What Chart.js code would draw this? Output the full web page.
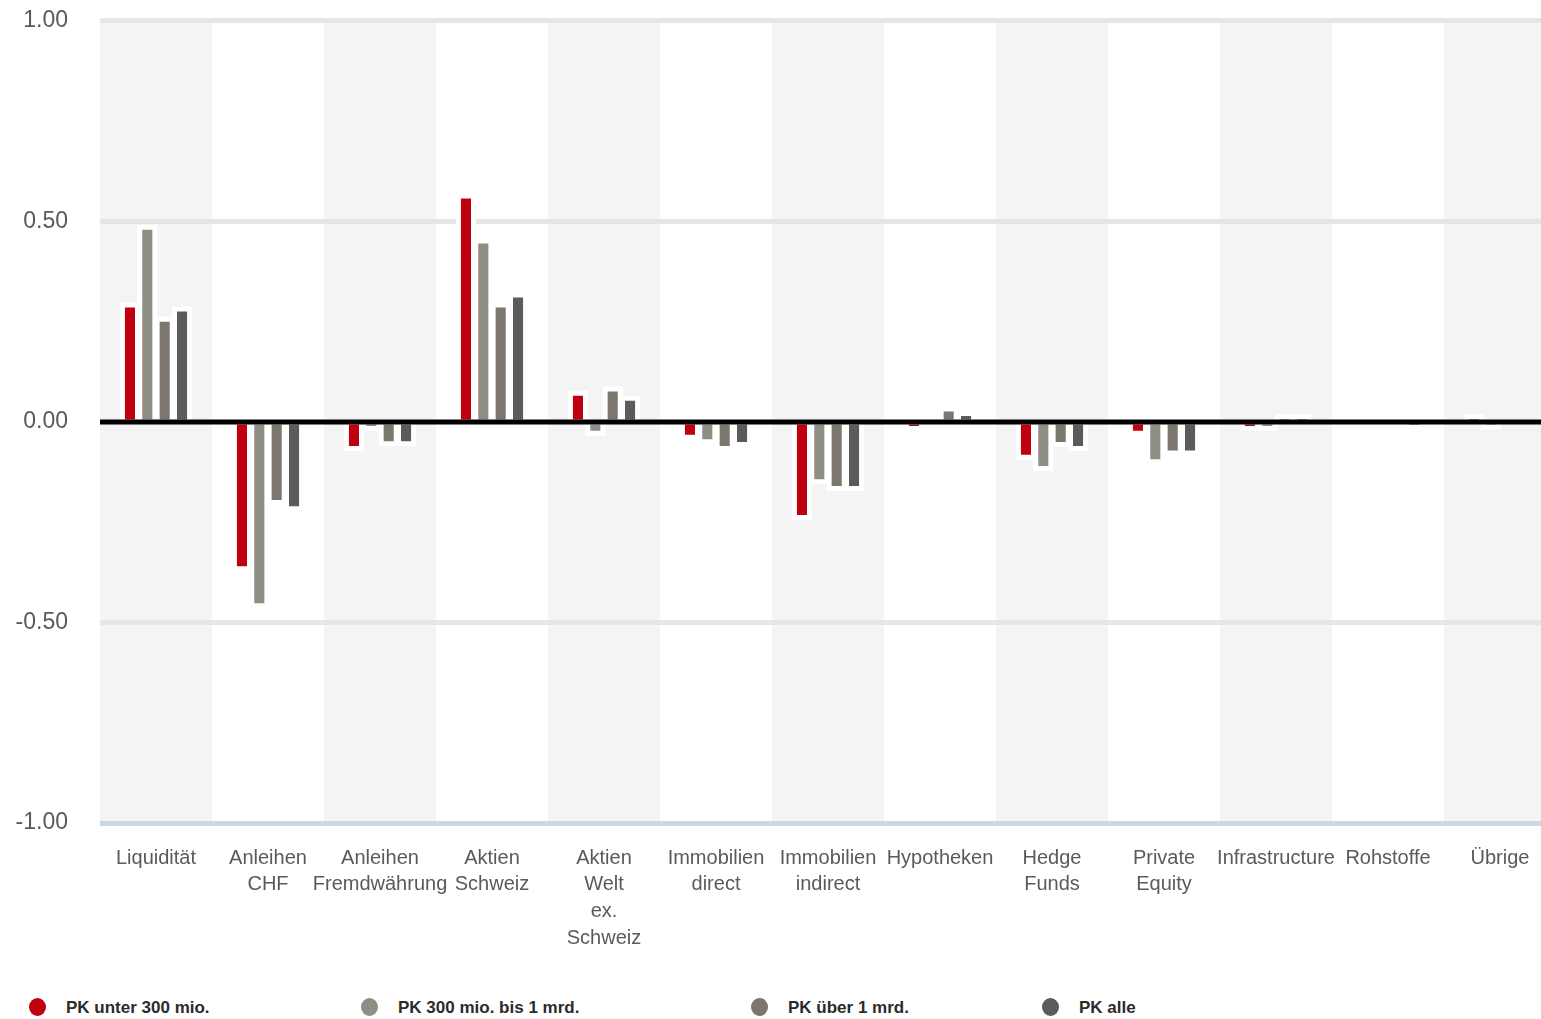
<!DOCTYPE html>
<html>
<head>
<meta charset="utf-8">
<script src="https://cdn.jsdelivr.net/npm/chart.js@4.4.1/dist/chart.umd.min.js"></script>
<style>
  html, body { margin: 0; padding: 0; background: #fff; overflow: hidden; }
  #wrap { position: relative; width: 1541px; height: 1019px; overflow: hidden; }
  #chart { position: absolute; left: 0; top: -25px; }
  #legend { position: absolute; left: 0; top: 996px; width: 1541px; height: 22px;
    font: bold 17px "Liberation Sans", Arial, sans-serif; color: #2b2b2b; }
  .item { position: absolute; top: 0; height: 22px; line-height: 22px; white-space: nowrap; }
  .dot { position: absolute; left: 0; top: 2px; width: 17px; height: 18px; border-radius: 50%; }
  .lbl { position: absolute; left: 37px; top: 1px; }
</style>
</head>
<body>
<div id="wrap">
  <canvas id="chart" width="1560" height="998"></canvas>
  <div id="legend"></div>
</div>
<script>
const categories = [
  'Liquidität',
  ['Anleihen', 'CHF'],
  ['Anleihen', 'Fremdwährung'],
  ['Aktien', 'Schweiz'],
  ['Aktien', 'Welt', 'ex.', 'Schweiz'],
  ['Immobilien', 'direct'],
  ['Immobilien', 'indirect'],
  'Hypotheken',
  ['Hedge', 'Funds'],
  ['Private', 'Equity'],
  'Infrastructure',
  'Rohstoffe',
  'Übrige'
];

const seriesNames = ['PK unter 300 mio.', 'PK 300 mio. bis 1 mrd.', 'PK über 1 mrd.', 'PK alle'];

const pkUnter300 = [0.285, -0.36, -0.06, 0.557, 0.065, -0.032, -0.232, -0.01, -0.082, -0.022, -0.01, 0, 0.004];
const pk300bis1mrd = [0.479, -0.452, -0.01, 0.445, -0.022, -0.043, -0.143, 0, -0.11, -0.093, -0.01, 0, -0.003];
const pkUeber1mrd = [0.25, -0.195, -0.048, 0.285, 0.076, -0.06, -0.16, 0.026, -0.05, -0.071, 0.005, 0, 0];
const pkAlle = [0.275, -0.21, -0.048, 0.31, 0.053, -0.05, -0.16, 0.015, -0.06, -0.071, 0.005, -0.008, 0];

const yTicks = [-1, -0.5, 0, 0.5, 1];

const colors = ['#c00010', '#8e8e84', '#7b776f', '#5a5c5a'];
const legendLeft = [29, 361, 751, 1042];

// alternating grey columns behind the categories
const bandPlugin = {
  id: 'bands',
  beforeDraw(chart) {
    const { ctx, chartArea, scales } = chart;
    const w = scales.x.width / categories.length;
    ctx.save();
    ctx.fillStyle = '#f4f4f4';
    categories.forEach((c, i) => {
      if (i % 2) return;
      const cx = scales.x.getPixelForValue(i);
      ctx.fillRect(cx - w / 2, chartArea.top, w, chartArea.bottom - chartArea.top);
    });
    ctx.restore();
  }
};

// white halo round every bar, as in the original
const haloPlugin = {
  id: 'halo',
  beforeDatasetsDraw(chart) {
    const { ctx } = chart;
    const pad = 5;
    ctx.save();
    ctx.fillStyle = '#ffffff';
    chart.data.datasets.forEach((ds, di) => {
      chart.getDatasetMeta(di).data.forEach((bar, i) => {
        const v = ds.data[i];
        if (!v) return;
        const p = bar.getProps(['x', 'y', 'base', 'width'], true);
        let top = Math.min(p.y, p.base);
        let bottom = Math.max(p.y, p.base);
        if (v > 0) top -= pad; else bottom += pad;
        ctx.fillRect(p.x - p.width / 2 - pad, top, p.width + pad * 2, bottom - top);
      });
    });
    ctx.restore();
  }
};

const zeroLinePlugin = {
  id: 'zeroLine',
  afterDatasetsDraw(chart) {
    const { ctx, chartArea, scales } = chart;
    const y = scales.y.getPixelForValue(0);
    ctx.save();
    ctx.strokeStyle = '#000000';
    ctx.lineWidth = 5;
    ctx.beginPath();
    ctx.moveTo(chartArea.left, y);
    ctx.lineTo(chartArea.right, y);
    ctx.stroke();
    ctx.restore();
  }
};

const series = [pkUnter300, pk300bis1mrd, pkUeber1mrd, pkAlle];

new Chart(document.getElementById('chart'), {
  type: 'bar',
  data: {
    labels: categories,
    datasets: series.map((d, i) => ({
      label: seriesNames[i],
      data: d,
      backgroundColor: colors[i],
      borderWidth: 0,
      categoryPercentage: 0.62,
      barPercentage: 0.58
    }))
  },
  options: {
    responsive: false,
    animation: false,
    layout: { padding: { top: 20, right: 4, left: 0, bottom: 0 } },
    plugins: {
      legend: { display: false },
      tooltip: { enabled: false }
    },
    scales: {
      x: {
        grid: { display: false },
        border: { display: false },
        ticks: {
          autoSkip: false,
          maxRotation: 0,
          padding: 14,
          color: '#5a5a5a',
          font: { family: '"Liberation Sans", Arial, sans-serif', size: 20, lineHeight: 1.33 }
        },
        afterFit(scale) { scale.height = 150; }
      },
      y: {
        min: -1,
        max: 1,
        afterBuildTicks(scale) { scale.ticks = yTicks.map(v => ({ value: v })); },
        border: { display: false },
        grid: {
          drawTicks: false,
          lineWidth: 5,
          color: c => c.tick.value === 0 ? 'rgba(0,0,0,0)' : (c.tick.value === -1 ? '#cdd6e4' : '#e6e6e6')
        },
        ticks: {
          padding: 32,
          color: '#5a5a5a',
          font: { family: '"Liberation Sans", Arial, sans-serif', size: 23 },
          callback: v => v.toFixed(2)
        },
        afterFit(scale) { scale.width = 100; }
      }
    }
  },
  plugins: [bandPlugin, haloPlugin, zeroLinePlugin]
});

const legend = document.getElementById('legend');
seriesNames.forEach((name, i) => {
  const item = document.createElement('div');
  item.className = 'item';
  item.style.left = legendLeft[i] + 'px';
  item.innerHTML = '<span class="dot" style="background:' + colors[i] + '"></span><span class="lbl"></span>';
  item.querySelector('.lbl').textContent = name;
  legend.appendChild(item);
});
</script>
</body>
</html>
